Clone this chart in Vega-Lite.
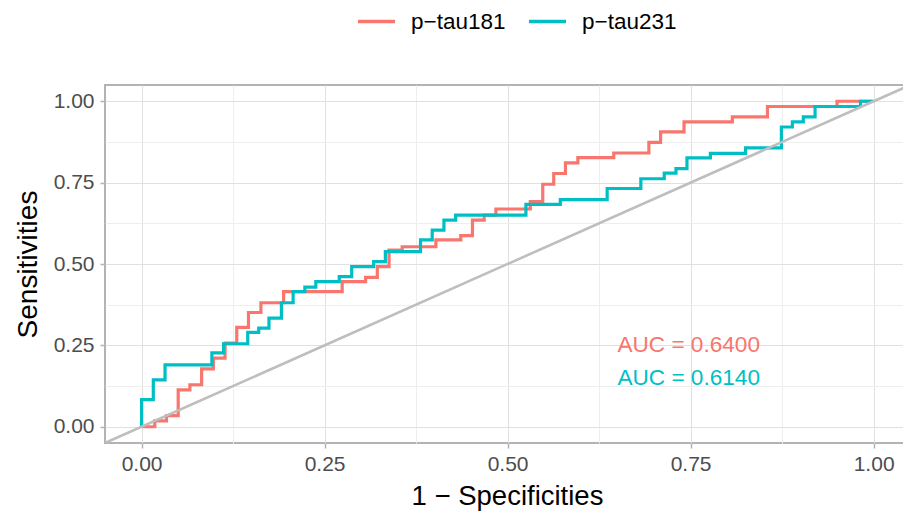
{
  "$schema": "https://vega.github.io/schema/vega-lite/v6.json",
  "width": 799,
  "height": 358,
  "autosize": {"type": "none"},
  "padding": {"left": 105, "top": 85, "right": 0, "bottom": 70},
  "config": {
    "font": "Liberation Sans",
    "view": {"stroke": "#B3B3B3", "strokeWidth": 2}
  },
  "datasets": {
    "roc": [
      {"s":"p−tau181","i":0,"x":0,"y":0},{"s":"p−tau181","i":1,"x":0.018,"y":0},{"s":"p−tau181","i":2,"x":0.018,"y":0.018},{"s":"p−tau181","i":3,"x":0.034,"y":0.018},
      {"s":"p−tau181","i":4,"x":0.034,"y":0.034},{"s":"p−tau181","i":5,"x":0.050,"y":0.034},{"s":"p−tau181","i":6,"x":0.050,"y":0.113},{"s":"p−tau181","i":7,"x":0.066,"y":0.113},
      {"s":"p−tau181","i":8,"x":0.066,"y":0.129},{"s":"p−tau181","i":9,"x":0.082,"y":0.129},{"s":"p−tau181","i":10,"x":0.082,"y":0.178},{"s":"p−tau181","i":11,"x":0.098,"y":0.178},
      {"s":"p−tau181","i":12,"x":0.098,"y":0.211},{"s":"p−tau181","i":13,"x":0.114,"y":0.211},{"s":"p−tau181","i":14,"x":0.114,"y":0.257},{"s":"p−tau181","i":15,"x":0.130,"y":0.257},
      {"s":"p−tau181","i":16,"x":0.130,"y":0.305},{"s":"p−tau181","i":17,"x":0.146,"y":0.305},{"s":"p−tau181","i":18,"x":0.146,"y":0.351},{"s":"p−tau181","i":19,"x":0.163,"y":0.351},
      {"s":"p−tau181","i":20,"x":0.163,"y":0.381},{"s":"p−tau181","i":21,"x":0.194,"y":0.381},{"s":"p−tau181","i":22,"x":0.194,"y":0.415},{"s":"p−tau181","i":23,"x":0.274,"y":0.415},
      {"s":"p−tau181","i":24,"x":0.274,"y":0.446},{"s":"p−tau181","i":25,"x":0.306,"y":0.446},{"s":"p−tau181","i":26,"x":0.306,"y":0.459},{"s":"p−tau181","i":27,"x":0.322,"y":0.459},
      {"s":"p−tau181","i":28,"x":0.322,"y":0.492},{"s":"p−tau181","i":29,"x":0.338,"y":0.492},{"s":"p−tau181","i":30,"x":0.338,"y":0.543},{"s":"p−tau181","i":31,"x":0.356,"y":0.543},
      {"s":"p−tau181","i":32,"x":0.356,"y":0.553},{"s":"p−tau181","i":33,"x":0.402,"y":0.553},{"s":"p−tau181","i":34,"x":0.402,"y":0.574},{"s":"p−tau181","i":35,"x":0.436,"y":0.574},
      {"s":"p−tau181","i":36,"x":0.436,"y":0.587},{"s":"p−tau181","i":37,"x":0.452,"y":0.587},{"s":"p−tau181","i":38,"x":0.452,"y":0.635},{"s":"p−tau181","i":39,"x":0.468,"y":0.635},
      {"s":"p−tau181","i":40,"x":0.468,"y":0.650},{"s":"p−tau181","i":41,"x":0.484,"y":0.650},{"s":"p−tau181","i":42,"x":0.484,"y":0.669},{"s":"p−tau181","i":43,"x":0.531,"y":0.669},
      {"s":"p−tau181","i":44,"x":0.531,"y":0.692},{"s":"p−tau181","i":45,"x":0.548,"y":0.692},{"s":"p−tau181","i":46,"x":0.548,"y":0.745},{"s":"p−tau181","i":47,"x":0.563,"y":0.745},
      {"s":"p−tau181","i":48,"x":0.563,"y":0.778},{"s":"p−tau181","i":49,"x":0.579,"y":0.778},{"s":"p−tau181","i":50,"x":0.579,"y":0.811},{"s":"p−tau181","i":51,"x":0.596,"y":0.811},
      {"s":"p−tau181","i":52,"x":0.596,"y":0.827},{"s":"p−tau181","i":53,"x":0.645,"y":0.827},{"s":"p−tau181","i":54,"x":0.645,"y":0.841},{"s":"p−tau181","i":55,"x":0.693,"y":0.841},
      {"s":"p−tau181","i":56,"x":0.693,"y":0.874},{"s":"p−tau181","i":57,"x":0.709,"y":0.874},{"s":"p−tau181","i":58,"x":0.709,"y":0.906},{"s":"p−tau181","i":59,"x":0.741,"y":0.906},
      {"s":"p−tau181","i":60,"x":0.741,"y":0.937},{"s":"p−tau181","i":61,"x":0.807,"y":0.937},{"s":"p−tau181","i":62,"x":0.807,"y":0.952},{"s":"p−tau181","i":63,"x":0.855,"y":0.952},
      {"s":"p−tau181","i":64,"x":0.855,"y":0.984},{"s":"p−tau181","i":65,"x":0.950,"y":0.984},{"s":"p−tau181","i":66,"x":0.950,"y":1.0},{"s":"p−tau181","i":67,"x":1.0,"y":1.0},

      {"s":"p−tau231","i":0,"x":0,"y":0},{"s":"p−tau231","i":1,"x":0,"y":0.083},{"s":"p−tau231","i":2,"x":0.016,"y":0.083},{"s":"p−tau231","i":3,"x":0.016,"y":0.144},
      {"s":"p−tau231","i":4,"x":0.032,"y":0.144},{"s":"p−tau231","i":5,"x":0.032,"y":0.190},{"s":"p−tau231","i":6,"x":0.096,"y":0.190},{"s":"p−tau231","i":7,"x":0.096,"y":0.227},
      {"s":"p−tau231","i":8,"x":0.112,"y":0.227},{"s":"p−tau231","i":9,"x":0.112,"y":0.255},{"s":"p−tau231","i":10,"x":0.145,"y":0.255},{"s":"p−tau231","i":11,"x":0.145,"y":0.290},
      {"s":"p−tau231","i":12,"x":0.160,"y":0.290},{"s":"p−tau231","i":13,"x":0.160,"y":0.303},{"s":"p−tau231","i":14,"x":0.174,"y":0.303},{"s":"p−tau231","i":15,"x":0.174,"y":0.334},
      {"s":"p−tau231","i":16,"x":0.191,"y":0.334},{"s":"p−tau231","i":17,"x":0.191,"y":0.381},{"s":"p−tau231","i":18,"x":0.207,"y":0.381},{"s":"p−tau231","i":19,"x":0.207,"y":0.415},
      {"s":"p−tau231","i":20,"x":0.223,"y":0.415},{"s":"p−tau231","i":21,"x":0.223,"y":0.429},{"s":"p−tau231","i":22,"x":0.238,"y":0.429},{"s":"p−tau231","i":23,"x":0.238,"y":0.446},
      {"s":"p−tau231","i":24,"x":0.270,"y":0.446},{"s":"p−tau231","i":25,"x":0.270,"y":0.461},{"s":"p−tau231","i":26,"x":0.287,"y":0.461},{"s":"p−tau231","i":27,"x":0.287,"y":0.492},
      {"s":"p−tau231","i":28,"x":0.317,"y":0.492},{"s":"p−tau231","i":29,"x":0.317,"y":0.507},{"s":"p−tau231","i":30,"x":0.333,"y":0.507},{"s":"p−tau231","i":31,"x":0.333,"y":0.538},
      {"s":"p−tau231","i":32,"x":0.381,"y":0.538},{"s":"p−tau231","i":33,"x":0.381,"y":0.574},{"s":"p−tau231","i":34,"x":0.397,"y":0.574},{"s":"p−tau231","i":35,"x":0.397,"y":0.604},
      {"s":"p−tau231","i":36,"x":0.413,"y":0.604},{"s":"p−tau231","i":37,"x":0.413,"y":0.635},{"s":"p−tau231","i":38,"x":0.429,"y":0.635},{"s":"p−tau231","i":39,"x":0.429,"y":0.650},
      {"s":"p−tau231","i":40,"x":0.525,"y":0.650},{"s":"p−tau231","i":41,"x":0.525,"y":0.683},{"s":"p−tau231","i":42,"x":0.572,"y":0.683},{"s":"p−tau231","i":43,"x":0.572,"y":0.698},
      {"s":"p−tau231","i":44,"x":0.636,"y":0.698},{"s":"p−tau231","i":45,"x":0.636,"y":0.732},{"s":"p−tau231","i":46,"x":0.682,"y":0.732},{"s":"p−tau231","i":47,"x":0.682,"y":0.762},
      {"s":"p−tau231","i":48,"x":0.714,"y":0.762},{"s":"p−tau231","i":49,"x":0.714,"y":0.779},{"s":"p−tau231","i":50,"x":0.730,"y":0.779},{"s":"p−tau231","i":51,"x":0.730,"y":0.793},
      {"s":"p−tau231","i":52,"x":0.745,"y":0.793},{"s":"p−tau231","i":53,"x":0.745,"y":0.826},{"s":"p−tau231","i":54,"x":0.777,"y":0.826},{"s":"p−tau231","i":55,"x":0.777,"y":0.840},
      {"s":"p−tau231","i":56,"x":0.825,"y":0.840},{"s":"p−tau231","i":57,"x":0.825,"y":0.857},{"s":"p−tau231","i":58,"x":0.874,"y":0.857},{"s":"p−tau231","i":59,"x":0.874,"y":0.921},
      {"s":"p−tau231","i":60,"x":0.889,"y":0.921},{"s":"p−tau231","i":61,"x":0.889,"y":0.937},{"s":"p−tau231","i":62,"x":0.904,"y":0.937},{"s":"p−tau231","i":63,"x":0.904,"y":0.952},
      {"s":"p−tau231","i":64,"x":0.920,"y":0.952},{"s":"p−tau231","i":65,"x":0.920,"y":0.984},{"s":"p−tau231","i":66,"x":0.982,"y":0.984},{"s":"p−tau231","i":67,"x":0.982,"y":1.0},
      {"s":"p−tau231","i":68,"x":1.0,"y":1.0}
    ],
    "diag": [{"x": -0.1, "y": -0.1}, {"x": 1.1, "y": 1.1}],
    "auc": [
      {"s": "p−tau181", "x": 0.65, "y": 0.25, "label": "AUC = 0.6400"},
      {"s": "p−tau231", "x": 0.65, "y": 0.15, "label": "AUC = 0.6140"}
    ]
  },
  "encoding": {
    "x": {
      "field": "x", "type": "quantitative", "title": "1 − Specificities",
      "scale": {"domain": [-0.05, 1.0415], "nice": false, "zero": false},
      "axis": {
        "values": [0, 0.125, 0.25, 0.375, 0.5, 0.625, 0.75, 0.875, 1],
        "labelExpr": "datum.value % 0.25 == 0 ? format(datum.value, '.2f') : ''",
        "domain": false,
        "gridColor": {"condition": {"test": "datum.value % 0.25 != 0", "value": "#EEEEEE"}, "value": "#E0E0E0"},
        "gridWidth": 1,
        "tickColor": "#B3B3B3",
        "tickOpacity": {"condition": {"test": "datum.value % 0.25 != 0", "value": 0}, "value": 1},
        "tickSize": 5, "tickWidth": 1.5,
        "labelFontSize": 21, "labelColor": "#4D4D4D", "labelPadding": 5,
        "titleFontSize": 27.5, "titleFontWeight": "normal", "titleColor": "#000000",
        "titlePadding": 8, "titleX": 402
      }
    },
    "y": {
      "field": "y", "type": "quantitative", "title": "Sensitivities",
      "scale": {"domain": [-0.05, 1.05], "nice": false, "zero": false},
      "axis": {
        "values": [0, 0.125, 0.25, 0.375, 0.5, 0.625, 0.75, 0.875, 1],
        "labelExpr": "datum.value % 0.25 == 0 ? format(datum.value, '.2f') : ''",
        "domain": false,
        "gridColor": {"condition": {"test": "datum.value % 0.25 != 0", "value": "#EEEEEE"}, "value": "#E0E0E0"},
        "gridWidth": 1,
        "tickColor": "#B3B3B3",
        "tickOpacity": {"condition": {"test": "datum.value % 0.25 != 0", "value": 0}, "value": 1},
        "tickSize": 5, "tickWidth": 1.5,
        "labelFontSize": 21, "labelColor": "#4D4D4D", "labelPadding": 6,
        "titleFontSize": 28, "titleFontWeight": "normal", "titleColor": "#000000",
        "titlePadding": 11
      }
    }
  },
  "layer": [
    {
      "data": {"name": "roc"},
      "mark": {"type": "line", "strokeWidth": 3.2, "clip": true},
      "encoding": {
        "color": {
          "field": "s", "type": "nominal",
          "scale": {"domain": ["p−tau181", "p−tau231"], "range": ["#F8766D", "#00BFC4"]},
          "legend": {
            "orient": "none", "legendX": 251, "legendY": -84, "direction": "horizontal",
            "title": null, "symbolType": "stroke", "symbolSize": 1369, "symbolStrokeWidth": 3.5,
            "labelFontSize": 22.5, "labelColor": "#000000", "labelOffset": 14, "columnPadding": 16, "padding": 0
          }
        },
        "order": {"field": "i", "type": "quantitative"}
      }
    },
    {
      "data": {"name": "diag"},
      "mark": {"type": "line", "color": "#BEBEBE", "strokeWidth": 2.6, "clip": true},
      "encoding": {}
    },
    {
      "data": {"name": "auc"},
      "mark": {"type": "text", "align": "left", "baseline": "middle", "fontSize": 22.6},
      "encoding": {
        "text": {"field": "label"},
        "color": {"field": "s", "type": "nominal", "legend": null}
      }
    }
  ]
}
